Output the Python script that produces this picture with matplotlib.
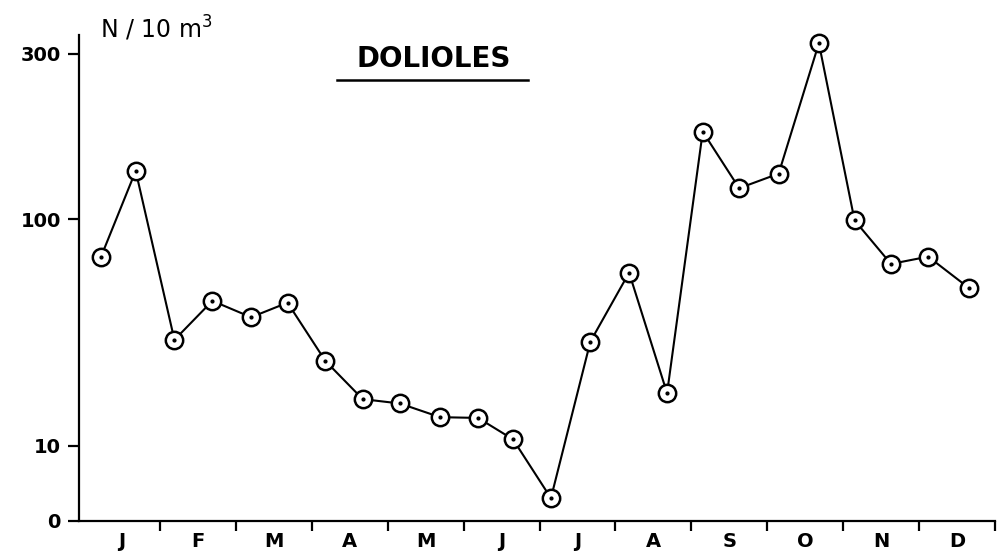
import numpy as np
import matplotlib
matplotlib.use("Agg")
import matplotlib.pyplot as plt
from matplotlib.lines import Line2D

# ---- data ----
months = ["J", "F", "M", "A", "M", "J", "J", "A", "S", "O", "N", "D"]
# sampling positions in month units (0 = 1 Jan, 12 = end of Dec)
sample_pos = [0.22, 0.68, 1.19, 1.69, 2.20, 2.68, 3.18, 3.67, 4.16, 4.69, 5.19, 5.65,
              6.15, 6.67, 7.18, 7.68, 8.15, 8.63, 9.15, 9.68, 10.15, 10.63, 11.12, 11.66]
# abundance, N / 10 m3
abundance = [68, 138, 29.4, 43.7, 37.0, 42.9, 23.7, 16.1, 15.4, 13.4, 13.3, 10.7,
             3.0, 28.9, 58.2, 17.1, 179, 123, 135.5, 322, 99, 63.6, 68.5, 49.7]
y_ticks = [0, 10, 100, 300]
y_tick_labels = ["0", "10", "100", "300"]

# ---- hand-drawn axis scale (linear 0-10, log above, as in the original) ----
_G = np.array([0.0, 1.0, 2.0, np.log10(300.0), 3.0])
_H = np.array([0.0, 74.5, 301.0, 466.5, 301.0 + 165.5 / np.log10(3.0)])


def _g(v):
    v = np.asarray(v, dtype=float)
    return np.where(v < 10, v / 10.0, np.log10(np.maximum(v, 1e-12)))


def fwd(v):
    return np.interp(_g(v), _G, _H)


def inv(h):
    g = np.interp(np.asarray(h, dtype=float), _H, _G)
    return np.where(g < 1, g * 10.0, 10 ** g)


W, H = 999, 554
fig = plt.figure(figsize=(W / 100, H / 100), dpi=100)
ax = fig.add_axes([79 / W, (H - 520.5) / H, 916 / W, 485.5 / H])
ax.set_yscale("function", functions=(fwd, inv))
ax.set_ylim(0, 340)
ax.set_xlim(-0.067, 12.0)

ax.plot(sample_pos, abundance, color="black", lw=1.5, marker="o", ms=12.5,
        mfc="white", mec="black", mew=1.8, zorder=3, clip_on=False)
ax.plot(sample_pos, abundance, ls="none", marker="o", ms=2.0, color="black",
        zorder=4, clip_on=False)

for s in ["top", "right"]:
    ax.spines[s].set_visible(False)
for s in ["left", "bottom"]:
    ax.spines[s].set_linewidth(1.6)

ax.set_yticks(y_ticks)
ax.set_yticklabels(y_tick_labels, fontsize=14, fontweight="bold")
ax.yaxis.set_minor_locator(matplotlib.ticker.NullLocator())
ax.tick_params(axis="y", direction="out", length=8, width=1.6, pad=5)

ax.set_xticks(np.arange(1, 13))
ax.set_xticklabels([""] * 12)
ax.set_xticks(np.arange(12) + 0.5, minor=True)
ax.set_xticklabels(months, minor=True, fontsize=14, fontweight="bold")
ax.tick_params(axis="x", which="major", direction="out", length=7.5, width=1.6)
ax.tick_params(axis="x", which="minor", length=0, pad=8)

fig.text(100 / W, 1 - 38 / H, "N / 10 m$^3$", fontsize=17, ha="left", va="baseline")
fig.text(434 / W, 1 - 59 / H, "DOLIOLES", fontsize=20, fontweight="bold",
         ha="center", va="center")
fig.add_artist(Line2D([337 / W, 528 / W], [1 - 80 / H] * 2, transform=fig.transFigure,
                      color="black", lw=1.8))

fig.savefig("out.png", dpi=100)
